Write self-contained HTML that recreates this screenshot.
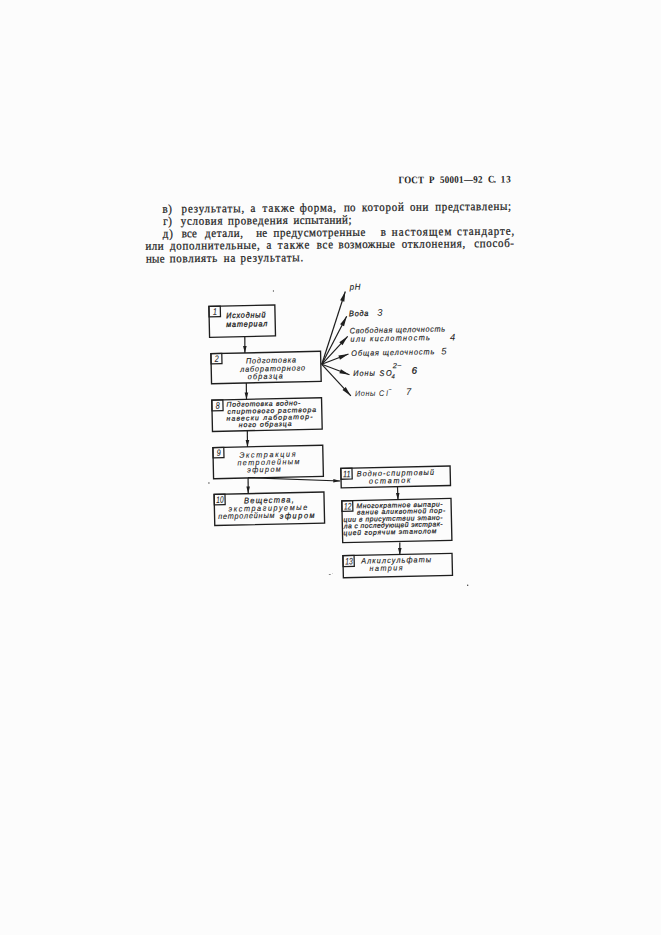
<!DOCTYPE html>
<html><head><meta charset="utf-8"><title>ГОСТ Р 50001-92 С. 13</title>
<style>html,body{margin:0;padding:0;background:#fcfcfc;width:661px;height:935px;overflow:hidden}svg{display:block}</style>
</head><body>
<svg width="661" height="935" viewBox="0 0 661 935">
<rect width="661" height="935" fill="#fcfcfc"/>
<g fill="#1e1e1e" transform="rotate(-0.45 330.0 237.0)">
<text transform="translate(399.00 183.84) scale(0.9 1.0)" font-size="10.0" font-weight="bold" font-family='"Liberation Serif", serif' style="letter-spacing:0.104px" >ГОСТ</text>
<text transform="translate(429.50 183.84) scale(0.9 1.0)" font-size="10.0" font-weight="bold" font-family='"Liberation Serif", serif' style="letter-spacing:0.800px" >Р</text>
<text transform="translate(440.30 183.84) scale(0.9 1.0)" font-size="10.0" font-weight="bold" font-family='"Liberation Serif", serif' style="letter-spacing:0.349px" >50001—92</text>
<text transform="translate(488.50 183.84) scale(0.9 1.0)" font-size="10.0" font-weight="bold" font-family='"Liberation Serif", serif' style="letter-spacing:-0.831px" >С.</text>
<text transform="translate(501.20 183.84) scale(0.9 1.0)" font-size="10.0" font-weight="bold" font-family='"Liberation Serif", serif' style="letter-spacing:1.111px" >13</text>
</g>
<g fill="#1e1e1e" stroke="#1e1e1e" stroke-width="0.25" transform="rotate(-0.45 330.0 237.0)">
<text transform="translate(162.70 211.39) scale(0.93 1.02)" font-size="11.8" font-weight="normal" font-family='"Liberation Serif", serif' style="letter-spacing:0.501px" >в)</text>
<text transform="translate(181.80 211.39) scale(0.93 1.02)" font-size="11.8" font-weight="normal" font-family='"Liberation Serif", serif' style="letter-spacing:0.915px" >результаты,</text>
<text transform="translate(250.70 211.39) scale(0.93 1.02)" font-size="11.8" font-weight="normal" font-family='"Liberation Serif", serif' style="letter-spacing:0.800px" >а</text>
<text transform="translate(262.70 211.39) scale(0.93 1.02)" font-size="11.8" font-weight="normal" font-family='"Liberation Serif", serif' style="letter-spacing:1.173px" >также</text>
<text transform="translate(299.90 211.39) scale(0.93 1.02)" font-size="11.8" font-weight="normal" font-family='"Liberation Serif", serif' style="letter-spacing:0.837px" >форма,</text>
<text transform="translate(344.10 211.39) scale(0.93 1.02)" font-size="11.8" font-weight="normal" font-family='"Liberation Serif", serif' style="letter-spacing:0.260px" >по</text>
<text transform="translate(362.20 211.39) scale(0.93 1.02)" font-size="11.8" font-weight="normal" font-family='"Liberation Serif", serif' style="letter-spacing:0.860px" >которой</text>
<text transform="translate(410.20 211.39) scale(0.93 1.02)" font-size="11.8" font-weight="normal" font-family='"Liberation Serif", serif' style="letter-spacing:0.576px" >они</text>
<text transform="translate(435.50 211.39) scale(0.93 1.02)" font-size="11.8" font-weight="normal" font-family='"Liberation Serif", serif' style="letter-spacing:0.697px" >представлены;</text>
<text transform="translate(163.30 223.69) scale(0.93 1.02)" font-size="11.8" font-weight="normal" font-family='"Liberation Serif", serif' style="letter-spacing:0.587px" >г)</text>
<text transform="translate(180.90 223.69) scale(0.93 1.02)" font-size="11.8" font-weight="normal" font-family='"Liberation Serif", serif' style="letter-spacing:0.767px" >условия</text>
<text transform="translate(228.10 223.69) scale(0.93 1.02)" font-size="11.8" font-weight="normal" font-family='"Liberation Serif", serif' style="letter-spacing:0.724px" >проведения</text>
<text transform="translate(293.50 223.69) scale(0.93 1.02)" font-size="11.8" font-weight="normal" font-family='"Liberation Serif", serif' style="letter-spacing:0.436px" >испытаний;</text>
<text transform="translate(162.70 236.19) scale(0.93 1.02)" font-size="11.8" font-weight="normal" font-family='"Liberation Serif", serif' style="letter-spacing:1.032px" >д)</text>
<text transform="translate(181.80 236.19) scale(0.93 1.02)" font-size="11.8" font-weight="normal" font-family='"Liberation Serif", serif' style="letter-spacing:0.005px" >все</text>
<text transform="translate(205.00 236.19) scale(0.93 1.02)" font-size="11.8" font-weight="normal" font-family='"Liberation Serif", serif' style="letter-spacing:0.655px" >детали,</text>
<text transform="translate(256.30 236.19) scale(0.93 1.02)" font-size="11.8" font-weight="normal" font-family='"Liberation Serif", serif' style="letter-spacing:0.168px" >не</text>
<text transform="translate(273.60 236.19) scale(0.93 1.02)" font-size="11.8" font-weight="normal" font-family='"Liberation Serif", serif' style="letter-spacing:0.631px" >предусмотренные</text>
<text transform="translate(380.80 236.19) scale(0.93 1.02)" font-size="11.8" font-weight="normal" font-family='"Liberation Serif", serif' style="letter-spacing:0.800px" >в</text>
<text transform="translate(391.70 236.19) scale(0.93 1.02)" font-size="11.8" font-weight="normal" font-family='"Liberation Serif", serif' style="letter-spacing:1.216px" >настоящем</text>
<text transform="translate(457.10 236.19) scale(0.93 1.02)" font-size="11.8" font-weight="normal" font-family='"Liberation Serif", serif' style="letter-spacing:1.022px" >стандарте,</text>
<text transform="translate(145.40 248.35) scale(0.93 1.02)" font-size="11.8" font-weight="normal" font-family='"Liberation Serif", serif' style="letter-spacing:0.528px" >или</text>
<text transform="translate(170.00 248.35) scale(0.93 1.02)" font-size="11.8" font-weight="normal" font-family='"Liberation Serif", serif' style="letter-spacing:0.713px" >дополнительные,</text>
<text transform="translate(266.30 248.35) scale(0.93 1.02)" font-size="11.8" font-weight="normal" font-family='"Liberation Serif", serif' style="letter-spacing:0.800px" >а</text>
<text transform="translate(277.70 248.35) scale(0.93 1.02)" font-size="11.8" font-weight="normal" font-family='"Liberation Serif", serif' style="letter-spacing:1.147px" >также</text>
<text transform="translate(316.70 248.35) scale(0.93 1.02)" font-size="11.8" font-weight="normal" font-family='"Liberation Serif", serif' style="letter-spacing:0.704px" >все</text>
<text transform="translate(338.50 248.35) scale(0.93 1.02)" font-size="11.8" font-weight="normal" font-family='"Liberation Serif", serif' style="letter-spacing:0.507px" >возможные</text>
<text transform="translate(401.70 248.35) scale(0.93 1.02)" font-size="11.8" font-weight="normal" font-family='"Liberation Serif", serif' style="letter-spacing:0.730px" >отклонения,</text>
<text transform="translate(474.10 248.35) scale(0.93 1.02)" font-size="11.8" font-weight="normal" font-family='"Liberation Serif", serif' style="letter-spacing:0.680px" >способ-</text>
<text transform="translate(145.70 261.05) scale(0.93 1.02)" font-size="11.8" font-weight="normal" font-family='"Liberation Serif", serif' style="letter-spacing:0.313px" >ные</text>
<text transform="translate(169.60 261.05) scale(0.93 1.02)" font-size="11.8" font-weight="normal" font-family='"Liberation Serif", serif' style="letter-spacing:0.754px" >повлиять</text>
<text transform="translate(223.50 261.05) scale(0.93 1.02)" font-size="11.8" font-weight="normal" font-family='"Liberation Serif", serif' style="letter-spacing:0.921px" >на</text>
<text transform="translate(240.30 261.05) scale(0.93 1.02)" font-size="11.8" font-weight="normal" font-family='"Liberation Serif", serif' style="letter-spacing:0.947px" >результаты.</text>
</g>
<g fill="#1e1e1e" transform="rotate(-1.25 330.0 440.0)">
<rect x="211.84" y="303.79" width="65.94" height="30.95" fill="none" stroke="#1e1e1e" stroke-width="1.35"/>
<rect x="211.84" y="303.79" width="11.37" height="10.45" fill="none" stroke="#1e1e1e" stroke-width="1.25"/>
<text x="217.83" y="312.34" font-size="9.4" font-style="italic" text-anchor="middle" font-family='"Liberation Sans", sans-serif' textLength="4.00" lengthAdjust="spacingAndGlyphs" stroke="#1e1e1e" stroke-width="0.1">1</text>
<rect x="212.81" y="351.12" width="109.67" height="30.00" fill="none" stroke="#1e1e1e" stroke-width="1.35"/>
<rect x="212.81" y="351.12" width="10.88" height="10.24" fill="none" stroke="#1e1e1e" stroke-width="1.25"/>
<text x="218.55" y="359.46" font-size="9.4" font-style="italic" text-anchor="middle" font-family='"Liberation Sans", sans-serif' textLength="4.00" lengthAdjust="spacingAndGlyphs" stroke="#1e1e1e" stroke-width="0.1">2</text>
<rect x="212.70" y="397.53" width="109.74" height="31.40" fill="none" stroke="#1e1e1e" stroke-width="1.35"/>
<rect x="212.70" y="397.53" width="11.07" height="10.74" fill="none" stroke="#1e1e1e" stroke-width="1.25"/>
<text x="218.53" y="406.37" font-size="9.4" font-style="italic" text-anchor="middle" font-family='"Liberation Sans", sans-serif' textLength="4.00" lengthAdjust="spacingAndGlyphs" stroke="#1e1e1e" stroke-width="0.1">8</text>
<rect x="212.76" y="445.04" width="109.85" height="31.10" fill="none" stroke="#1e1e1e" stroke-width="1.35"/>
<rect x="212.76" y="445.04" width="10.88" height="10.34" fill="none" stroke="#1e1e1e" stroke-width="1.25"/>
<text x="218.50" y="453.48" font-size="9.4" font-style="italic" text-anchor="middle" font-family='"Liberation Sans", sans-serif' textLength="4.00" lengthAdjust="spacingAndGlyphs" stroke="#1e1e1e" stroke-width="0.1">9</text>
<rect x="212.94" y="491.86" width="109.85" height="31.10" fill="none" stroke="#1e1e1e" stroke-width="1.35"/>
<rect x="212.94" y="491.86" width="10.87" height="10.44" fill="none" stroke="#1e1e1e" stroke-width="1.25"/>
<text x="218.68" y="500.40" font-size="9.4" font-style="italic" text-anchor="middle" font-family='"Liberation Sans", sans-serif' textLength="7.37" lengthAdjust="spacingAndGlyphs" stroke="#1e1e1e" stroke-width="0.1">10</text>
<rect x="340.18" y="468.63" width="109.30" height="19.49" fill="none" stroke="#1e1e1e" stroke-width="1.35"/>
<rect x="340.18" y="468.63" width="11.17" height="10.85" fill="none" stroke="#1e1e1e" stroke-width="1.25"/>
<text x="346.06" y="477.58" font-size="9.4" font-style="italic" text-anchor="middle" font-family='"Liberation Sans", sans-serif' textLength="7.67" lengthAdjust="spacingAndGlyphs" stroke="#1e1e1e" stroke-width="0.1">11</text>
<rect x="340.47" y="501.04" width="109.21" height="41.89" fill="none" stroke="#1e1e1e" stroke-width="1.35"/>
<rect x="340.47" y="501.04" width="10.87" height="10.64" fill="none" stroke="#1e1e1e" stroke-width="1.25"/>
<text x="346.21" y="509.78" font-size="9.4" font-style="italic" text-anchor="middle" font-family='"Liberation Sans", sans-serif' textLength="7.37" lengthAdjust="spacingAndGlyphs" stroke="#1e1e1e" stroke-width="0.1">12</text>
<rect x="340.37" y="555.95" width="109.14" height="22.09" fill="none" stroke="#1e1e1e" stroke-width="1.35"/>
<rect x="340.37" y="555.95" width="11.17" height="10.85" fill="none" stroke="#1e1e1e" stroke-width="1.25"/>
<text x="346.26" y="564.90" font-size="9.4" font-style="italic" text-anchor="middle" font-family='"Liberation Sans", sans-serif' textLength="7.67" lengthAdjust="spacingAndGlyphs" stroke="#1e1e1e" stroke-width="0.1">13</text>
<text transform="translate(228.88 315.92) scale(0.92 1.0)" font-size="7.9" font-weight="normal" font-style="italic" font-family='"Liberation Sans", sans-serif' style="letter-spacing:0.874px" stroke="#1e1e1e" stroke-width="0.3">Исходный</text>
<text transform="translate(228.69 324.85) scale(0.92 1.0)" font-size="7.9" font-weight="normal" font-style="italic" font-family='"Liberation Sans", sans-serif' style="letter-spacing:0.922px" stroke="#1e1e1e" stroke-width="0.3">материал</text>
<text transform="translate(247.59 361.72) scale(0.92 1.0)" font-size="7.9" font-weight="normal" font-style="italic" font-family='"Liberation Sans", sans-serif' style="letter-spacing:0.972px" stroke="#1e1e1e" stroke-width="0.15">Подготовка</text>
<text transform="translate(241.66 369.95) scale(0.92 1.0)" font-size="7.9" font-weight="normal" font-style="italic" font-family='"Liberation Sans", sans-serif' style="letter-spacing:1.001px" stroke="#1e1e1e" stroke-width="0.15">лабораторного</text>
<text transform="translate(249.04 377.50) scale(0.92 1.0)" font-size="7.9" font-weight="normal" font-style="italic" font-family='"Liberation Sans", sans-serif' style="letter-spacing:1.338px" stroke="#1e1e1e" stroke-width="0.15">образца</text>
<text transform="translate(227.25 404.55) scale(1.0 1.0)" font-size="6.9" font-weight="normal" font-style="italic" font-family='"Liberation Sans", sans-serif' style="letter-spacing:0.683px" stroke="#1e1e1e" stroke-width="0.22">Подготовка водно-</text>
<text transform="translate(227.99 411.67) scale(1.0 1.0)" font-size="6.9" font-weight="normal" font-style="italic" font-family='"Liberation Sans", sans-serif' style="letter-spacing:0.893px" stroke="#1e1e1e" stroke-width="0.22">спиртового раствора</text>
<text transform="translate(226.94 418.55) scale(1.0 1.0)" font-size="6.9" font-weight="normal" font-style="italic" font-family='"Liberation Sans", sans-serif' style="letter-spacing:1.178px" stroke="#1e1e1e" stroke-width="0.22">навески лаборатор-</text>
<text transform="translate(239.00 425.19) scale(1.0 1.0)" font-size="6.9" font-weight="normal" font-style="italic" font-family='"Liberation Sans", sans-serif' style="letter-spacing:0.907px" stroke="#1e1e1e" stroke-width="0.22">ного образца</text>
<text transform="translate(239.03 455.86) scale(0.92 1.0)" font-size="7.9" font-weight="normal" font-style="italic" font-family='"Liberation Sans", sans-serif' style="letter-spacing:1.764px" stroke="#1e1e1e" stroke-width="0.1">Экстракция</text>
<text transform="translate(236.97 463.38) scale(0.92 1.0)" font-size="7.9" font-weight="normal" font-style="italic" font-family='"Liberation Sans", sans-serif' style="letter-spacing:1.482px" stroke="#1e1e1e" stroke-width="0.1">петролейным</text>
<text transform="translate(246.61 470.65) scale(0.92 1.0)" font-size="7.9" font-weight="normal" font-style="italic" font-family='"Liberation Sans", sans-serif' style="letter-spacing:1.467px" stroke="#1e1e1e" stroke-width="0.1">эфиром</text>
<text transform="translate(242.64 501.54) scale(0.92 1.0)" font-size="8.3" font-weight="normal" font-style="italic" font-family='"Liberation Sans", sans-serif' style="letter-spacing:1.296px" stroke="#1e1e1e" stroke-width="0.22">Вещества,</text>
<text transform="translate(227.06 509.37) scale(0.92 1.0)" font-size="8.0" font-weight="normal" font-style="italic" font-family='"Liberation Sans", sans-serif' style="letter-spacing:1.677px" stroke="#1e1e1e" stroke-width="0.12">экстрагируемые</text>
<text transform="translate(216.50 516.58) scale(0.92 1.0)" font-size="8.0" font-weight="normal" font-style="italic" font-family='"Liberation Sans", sans-serif' style="letter-spacing:0.817px" stroke="#1e1e1e" stroke-width="0.12">петролейным</text>
<text transform="translate(278.00 517.57) scale(0.92 1.0)" font-size="8.0" font-weight="normal" font-style="italic" font-family='"Liberation Sans", sans-serif' style="letter-spacing:1.719px" stroke="#1e1e1e" stroke-width="0.25">эфиром</text>
<text transform="translate(355.90 477.07) scale(0.92 1.0)" font-size="7.9" font-weight="normal" font-style="italic" font-family='"Liberation Sans", sans-serif' style="letter-spacing:1.181px" stroke="#1e1e1e" stroke-width="0.15">Водно-спиртовый</text>
<text transform="translate(368.04 484.53) scale(0.92 1.0)" font-size="7.9" font-weight="normal" font-style="italic" font-family='"Liberation Sans", sans-serif' style="letter-spacing:1.852px" stroke="#1e1e1e" stroke-width="0.15">остаток</text>
<text transform="translate(355.00 508.86) scale(1.0 1.0)" font-size="6.8" font-weight="normal" font-style="italic" font-family='"Liberation Sans", sans-serif' style="letter-spacing:0.543px" stroke="#1e1e1e" stroke-width="0.22">Многократное выпари-</text>
<text transform="translate(355.37 515.17) scale(1.0 1.0)" font-size="6.8" font-weight="normal" font-style="italic" font-family='"Liberation Sans", sans-serif' style="letter-spacing:0.684px" stroke="#1e1e1e" stroke-width="0.22">вание аликвотной пор-</text>
<text transform="translate(341.71 522.18) scale(1.0 1.0)" font-size="6.8" font-weight="normal" font-style="italic" font-family='"Liberation Sans", sans-serif' style="letter-spacing:0.528px" stroke="#1e1e1e" stroke-width="0.22">ции в присутствии этано-</text>
<text transform="translate(341.89 528.67) scale(1.0 1.0)" font-size="6.8" font-weight="normal" font-style="italic" font-family='"Liberation Sans", sans-serif' style="letter-spacing:0.399px" stroke="#1e1e1e" stroke-width="0.22">ла с последующей экстрак-</text>
<text transform="translate(341.42 535.57) scale(1.0 1.0)" font-size="6.8" font-weight="normal" font-style="italic" font-family='"Liberation Sans", sans-serif' style="letter-spacing:0.763px" stroke="#1e1e1e" stroke-width="0.22">цией горячим этанолом</text>
<text transform="translate(358.56 564.24) scale(0.92 1.0)" font-size="7.9" font-weight="normal" font-style="italic" font-family='"Liberation Sans", sans-serif' style="letter-spacing:1.175px" stroke="#1e1e1e" stroke-width="0.15">Алкилсульфаты</text>
<text transform="translate(366.73 571.88) scale(0.92 1.0)" font-size="7.9" font-weight="normal" font-style="italic" font-family='"Liberation Sans", sans-serif' style="letter-spacing:1.525px" stroke="#1e1e1e" stroke-width="0.1">натрия</text>
<text transform="translate(352.97 290.24) scale(0.92 1.0)" font-size="8.6" font-weight="normal" font-style="italic" font-family='"Liberation Sans", sans-serif' style="letter-spacing:0.625px" stroke="#1e1e1e" stroke-width="0.15">pH</text>
<text transform="translate(351.79 316.77) scale(0.92 1.0)" font-size="8.0" font-weight="normal" font-style="italic" font-family='"Liberation Sans", sans-serif' style="letter-spacing:0.738px" stroke="#1e1e1e" stroke-width="0.3">Вода</text>
<text transform="translate(380.00 316.85) scale(1.0 1.0)" font-size="9.5" font-weight="normal" font-style="italic" font-family='"Liberation Sans", sans-serif' style="letter-spacing:0.000px" >3</text>
<text transform="translate(352.12 333.96) scale(0.92 1.0)" font-size="8.0" font-weight="normal" font-style="italic" font-family='"Liberation Sans", sans-serif' style="letter-spacing:0.711px" stroke="#1e1e1e" stroke-width="0.15">Свободная щелочность</text>
<text transform="translate(352.74 342.27) scale(0.92 1.0)" font-size="8.0" font-weight="normal" font-style="italic" font-family='"Liberation Sans", sans-serif' style="letter-spacing:1.364px" stroke="#1e1e1e" stroke-width="0.15">или кислотность</text>
<text transform="translate(452.04 343.12) scale(1.0 1.0)" font-size="9.5" font-weight="normal" font-style="italic" font-family='"Liberation Sans", sans-serif' style="letter-spacing:0.000px" >4</text>
<text transform="translate(353.13 356.48) scale(0.92 1.0)" font-size="8.0" font-weight="normal" font-style="italic" font-family='"Liberation Sans", sans-serif' style="letter-spacing:0.961px" stroke="#1e1e1e" stroke-width="0.15">Общая щелочность</text>
<text transform="translate(443.14 357.06) scale(1.0 1.0)" font-size="9.5" font-weight="normal" font-style="italic" font-family='"Liberation Sans", sans-serif' style="letter-spacing:0.000px" >5</text>
<text transform="translate(354.69 376.59) scale(0.92 1.0)" font-size="8.0" font-weight="normal" font-style="italic" font-family='"Liberation Sans", sans-serif' style="letter-spacing:1.041px" stroke="#1e1e1e" stroke-width="0.2">Ионы</text>
<text transform="translate(380.89 377.00) scale(0.92 1.0)" font-size="8.0" font-weight="normal" font-style="italic" font-family='"Liberation Sans", sans-serif' style="letter-spacing:1.701px" stroke="#1e1e1e" stroke-width="0.2">SO</text>
<text transform="translate(392.83 379.91) scale(1.0 1.0)" font-size="6" font-weight="normal" font-style="italic" font-family='"Liberation Sans", sans-serif' style="letter-spacing:0.000px" stroke="#1e1e1e" stroke-width="0.15">4</text>
<text transform="translate(394.20 369.53) scale(1.0 1.0)" font-size="7.5" font-weight="normal" font-style="italic" font-family='"Liberation Sans", sans-serif' style="letter-spacing:0.305px" stroke="#1e1e1e" stroke-width="0.15">2−</text>
<text transform="translate(413.22 375.67) scale(1.0 1.0)" font-size="9.5" font-weight="normal" font-style="italic" font-family='"Liberation Sans", sans-serif' style="letter-spacing:0.000px" stroke="#1e1e1e" stroke-width="0.3">6</text>
<text transform="translate(355.95 396.80) scale(0.92 1.0)" font-size="8.0" font-weight="normal" font-style="italic" font-family='"Liberation Sans", sans-serif' style="letter-spacing:0.606px" >Ионы</text>
<text transform="translate(379.95 397.13) scale(0.92 1.0)" font-size="8.0" font-weight="normal" font-style="italic" font-family='"Liberation Sans", sans-serif' style="letter-spacing:2.047px" >Cl</text>
<text transform="translate(389.55 392.35) scale(1.0 1.0)" font-size="5" font-weight="normal" font-style="italic" font-family='"Liberation Sans", sans-serif' style="letter-spacing:0.000px" stroke="#1e1e1e" stroke-width="0.15">−</text>
<text transform="translate(406.96 396.75) scale(1.0 1.0)" font-size="9.5" font-weight="normal" font-style="italic" font-family='"Liberation Sans", sans-serif' style="letter-spacing:0.000px" >7</text>
</g>
<g>
<line x1="244.80" y1="336.30" x2="244.90" y2="353.00" stroke="#1e1e1e" stroke-width="1.2"/>
<polygon points="244.90,353.00 243.06,346.01 246.66,345.99" fill="#1e1e1e"/>
<line x1="246.30" y1="383.00" x2="246.50" y2="399.50" stroke="#1e1e1e" stroke-width="1.2"/>
<polygon points="246.50,399.50 244.62,392.52 248.22,392.48" fill="#1e1e1e"/>
<line x1="247.30" y1="430.00" x2="247.50" y2="447.00" stroke="#1e1e1e" stroke-width="1.2"/>
<polygon points="247.50,447.00 245.62,440.02 249.22,439.98" fill="#1e1e1e"/>
<line x1="248.10" y1="478.00" x2="248.20" y2="493.50" stroke="#1e1e1e" stroke-width="1.2"/>
<polygon points="248.20,493.50 246.35,486.51 249.95,486.49" fill="#1e1e1e"/>
<line x1="248.00" y1="477.60" x2="340.30" y2="481.00" stroke="#1e1e1e" stroke-width="1.2"/>
<polygon points="340.30,481.00 333.24,482.54 333.37,478.94" fill="#1e1e1e"/>
<line x1="397.50" y1="487.00" x2="398.00" y2="500.00" stroke="#1e1e1e" stroke-width="1.2"/>
<polygon points="398.00,500.00 395.93,493.07 399.53,492.94" fill="#1e1e1e"/>
<line x1="399.80" y1="542.50" x2="399.80" y2="555.00" stroke="#1e1e1e" stroke-width="1.2"/>
<polygon points="399.80,555.00 398.00,548.00 401.60,548.00" fill="#1e1e1e"/>
<line x1="321.80" y1="364.30" x2="345.30" y2="291.50" stroke="#1e1e1e" stroke-width="1.2"/>
<polygon points="345.30,291.50 344.32,301.69 340.13,300.34" fill="#1e1e1e"/>
<line x1="321.80" y1="364.30" x2="346.70" y2="316.30" stroke="#1e1e1e" stroke-width="1.2"/>
<polygon points="346.70,316.30 344.05,326.19 340.14,324.16" fill="#1e1e1e"/>
<line x1="321.80" y1="364.30" x2="347.70" y2="336.30" stroke="#1e1e1e" stroke-width="1.2"/>
<polygon points="347.70,336.30 342.52,345.13 339.29,342.15" fill="#1e1e1e"/>
<line x1="321.80" y1="364.30" x2="348.50" y2="354.00" stroke="#1e1e1e" stroke-width="1.2"/>
<polygon points="348.50,354.00 339.96,359.65 338.38,355.55" fill="#1e1e1e"/>
<line x1="321.80" y1="364.30" x2="349.50" y2="374.70" stroke="#1e1e1e" stroke-width="1.2"/>
<polygon points="349.50,374.70 339.36,373.24 340.91,369.13" fill="#1e1e1e"/>
<line x1="321.80" y1="364.30" x2="350.90" y2="395.90" stroke="#1e1e1e" stroke-width="1.2"/>
<polygon points="350.90,395.90 342.51,390.03 345.74,387.05" fill="#1e1e1e"/>
<ellipse cx="273.4" cy="291.0" rx="0.6" ry="0.9" fill="#777"/>
<ellipse cx="208.9" cy="483.0" rx="0.9" ry="0.8" fill="#666"/>
<ellipse cx="329.8" cy="574.5" rx="1.1" ry="0.5" fill="#777"/>
<ellipse cx="332.6" cy="573.6" rx="0.4" ry="0.4" fill="#888"/>
<ellipse cx="467.7" cy="585.2" rx="0.7" ry="0.7" fill="#333"/>
</g>
</svg>
</body></html>
